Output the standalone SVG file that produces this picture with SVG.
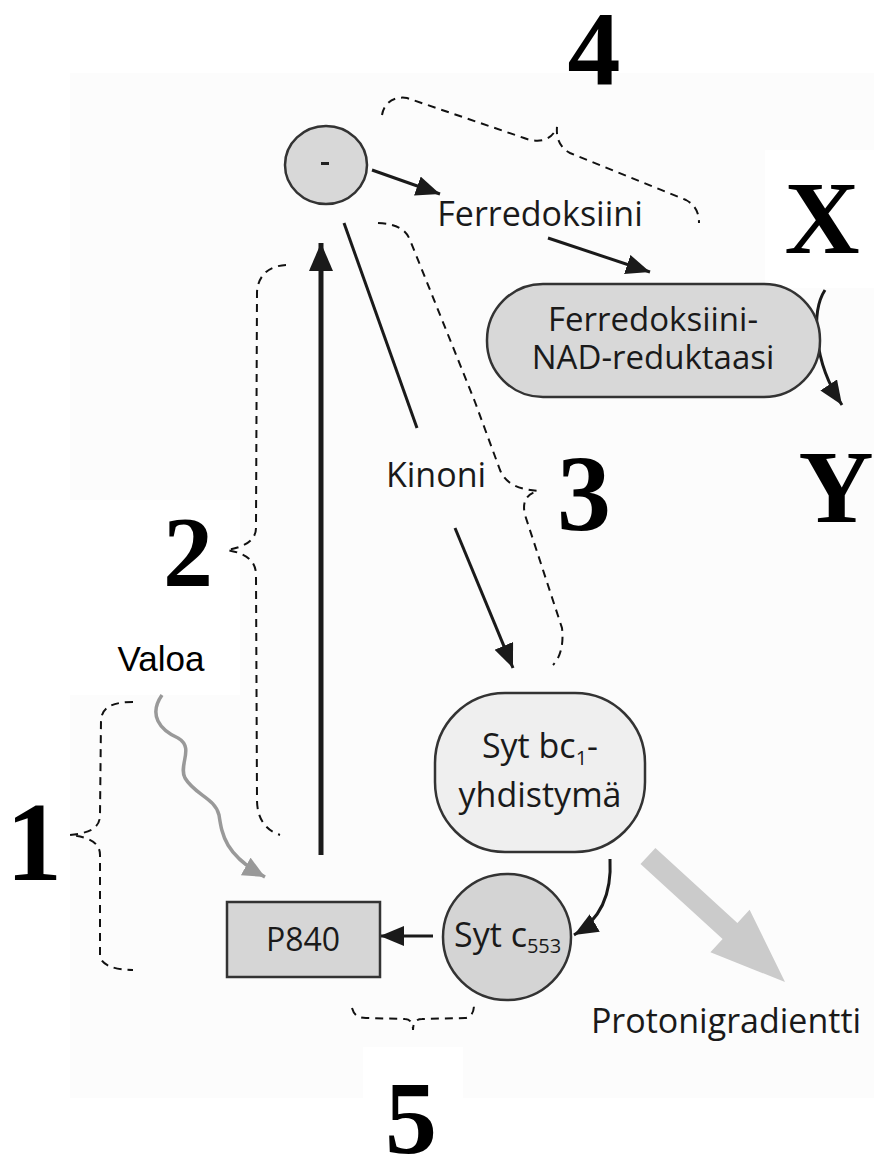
<svg xmlns="http://www.w3.org/2000/svg" width="874" height="1158" viewBox="0 0 874 1158">
<style>
.node{stroke:#333;stroke-width:2.5}
.lbl{font-family:"Open Sans","Noto Sans",sans-serif;fill:#1a1a1a}
.num{font-family:"Liberation Serif","Times New Roman",serif;font-weight:bold;fill:#000}
.conn{stroke:#1a1a1a;stroke-width:3;fill:none}
.brace{stroke:#111;stroke-width:2;fill:none;stroke-dasharray:8 6}
</style>
<defs>
<marker id="ah" markerUnits="userSpaceOnUse" markerWidth="28" markerHeight="22" refX="24" refY="10" orient="auto">
<path d="M0,0 L24,10 L0,20 Z" fill="#1a1a1a"/>
</marker>
<marker id="ahBig" markerUnits="userSpaceOnUse" markerWidth="30" markerHeight="28" refX="28" refY="12" orient="auto">
<path d="M0,0 L28,12 L0,24 Z" fill="#1a1a1a"/>
</marker>
<marker id="ahGray" markerUnits="userSpaceOnUse" markerWidth="26" markerHeight="22" refX="22" refY="10" orient="auto">
<path d="M0,0 L22,10 L0,20 Z" fill="#999"/>
</marker>
</defs>
<rect x="0" y="0" width="874" height="1158" fill="#fff"/>
<rect x="70" y="73" width="804" height="1025" fill="#fcfcfc"/>
<rect x="765" y="150" width="109" height="138" fill="#fff"/>
<rect x="0" y="500" width="240" height="195" fill="#fff"/>
<rect x="363" y="1047" width="100" height="111" fill="#fff"/>

<g id="connectors">
<line class="conn" x1="372" y1="170" x2="440" y2="194" marker-end="url(#ah)"/>
<line class="conn" x1="548" y1="238" x2="650" y2="272" marker-end="url(#ah)"/>
<line class="conn" x1="344" y1="223" x2="417" y2="428"/>
<line class="conn" x1="455" y1="528" x2="513" y2="668" marker-end="url(#ah)"/>
<line stroke="#1a1a1a" stroke-width="5" x1="321" y1="855" x2="321" y2="243" marker-end="url(#ahBig)"/>
<path class="conn" d="M610,859 C612,895 600,920 574,935" marker-end="url(#ah)"/>
<line class="conn" x1="433" y1="936" x2="380" y2="936" marker-end="url(#ah)"/>
<path class="conn" stroke-width="2.5" d="M825,290 C812,310 812,360 842,405" marker-end="url(#ah)"/>
<path d="M162,695 C148,715 160,730 178,738 C195,748 178,765 185,778 C195,795 215,798 219,815 C222,835 225,855 265,877" stroke="#999" stroke-width="3.5" fill="none" marker-end="url(#ahGray)"/>
<polygon points="640.5,864 655.4,847.9 737.4,922.9 749.6,909.7 785,982 710.4,952.3 722.6,939.1" fill="#cbcbcb"/>
</g>

<g id="braces">
<path class="brace" d="M382,115 C384,102 395,96 407,98 L524,138 C540,144 552,140 557,127 C556,138 560,148 570,153 L686,200 C695,205 699,212 699,223"/>
<path class="brace" d="M286,265 C268,266 258,276 257,292 L256,528 C256,540 245,547 227,550 C245,553 256,560 256,575 L257,800 C257,818 265,830 280,835"/>
<path class="brace" d="M378,223 C395,224 405,228 410,240 L475,402 L500,470 C505,482 515,489 538,491 C526,494 522,502 525,515 L562,628 C564,645 560,658 553,665"/>
<path class="brace" d="M133,702 C115,702 102,706 101,720 L100,815 C100,828 90,833 70,835 C88,837 100,842 100,855 L100,955 C100,965 115,970 133,970"/>
<path class="brace" d="M352,1008 C354,1015 358,1018 366,1018 L405,1019 C410,1019 413,1023 413,1030 C413,1023 416,1019 422,1019 L465,1018 C471,1018 474,1012 474,1005"/>
</g>

<g id="n-electron">
<ellipse class="node" cx="326" cy="165" rx="41" ry="39" fill="#d8d8d8"/>
<rect x="321" y="162" width="8" height="3" fill="#222"/>
</g>
<g id="n-ferredoksiini">
<text class="lbl" x="540" y="226" font-size="34" text-anchor="middle">Ferredoksiini</text>
</g>
<g id="n-reduktaasi">
<rect class="node" x="487" y="284" width="333" height="113" rx="56" ry="56" fill="#d8d8d8"/>
<text class="lbl" x="653" y="331" font-size="33" text-anchor="middle">Ferredoksiini-</text>
<text class="lbl" x="653" y="369" font-size="33" text-anchor="middle">NAD-reduktaasi</text>
</g>
<g id="n-kinoni">
<text class="lbl" x="436" y="487" font-size="34" text-anchor="middle">Kinoni</text>
</g>
<g id="n-bc1">
<rect class="node" x="435" y="693" width="210" height="159" rx="70" ry="70" fill="#efefef"/>
<text class="lbl" x="540" y="758" font-size="34" text-anchor="middle">Syt bc<tspan font-size="20" dy="7">1</tspan><tspan dy="-7">-</tspan></text>
<text class="lbl" x="540" y="807" font-size="34" text-anchor="middle">yhdistymä</text>
</g>
<g id="n-c553">
<ellipse class="node" cx="507" cy="937" rx="64" ry="63" fill="#d4d4d4"/>
<text class="lbl" x="454" y="947" font-size="34">Syt c<tspan font-size="20" dy="6">553</tspan></text>
</g>
<g id="n-p840">
<rect class="node" x="227" y="902" width="153" height="75" fill="#d6d6d6"/>
<text class="lbl" x="303" y="951" font-size="32" text-anchor="middle">P840</text>
</g>
<g id="n-valoa">
<text x="161" y="671" font-family="Liberation Sans,Arial,sans-serif" font-size="35" text-anchor="middle" fill="#000">Valoa</text>
</g>
<g id="n-proton">
<text class="lbl" x="726" y="1033" font-size="34" text-anchor="middle">Protonigradientti</text>
</g>
<g id="labels">
<text class="num" x="594" y="85" font-size="106" text-anchor="middle">4</text>
<text class="num" x="822" y="253" font-size="104" text-anchor="middle">X</text>
<text class="num" x="836" y="522" font-size="104" text-anchor="middle">Y</text>
<text class="num" x="584" y="530" font-size="108" text-anchor="middle">3</text>
<text class="num" x="188" y="585" font-size="100" text-anchor="middle">2</text>
<text class="num" x="34" y="880" font-size="112" text-anchor="middle">1</text>
<text class="num" x="411" y="1153" font-size="104" text-anchor="middle">5</text>
</g>
</svg>
